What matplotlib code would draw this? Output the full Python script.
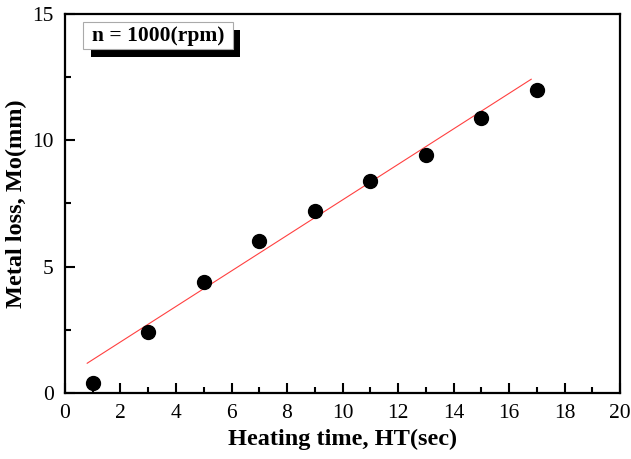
import numpy as np
import matplotlib.pyplot as plt
from matplotlib.patches import Rectangle
from matplotlib.ticker import MultipleLocator

# heating time (sec) vs metal loss (mm)
heating_time = [1, 3, 5, 7, 9, 11, 13, 15, 17]
metal_loss = [0.4, 2.4, 4.4, 6.0, 7.2, 8.4, 9.4, 10.9, 12.0]
fit_range = [0.8, 16.8]

plt.rcParams['font.family'] = ['Liberation Serif', 'DejaVu Serif']

fig = plt.figure(figsize=(6.31, 4.59), dpi=100)
ax = fig.add_axes([0.103, 0.1438, 0.8796, 0.8257])

slope, icpt = np.polyfit(heating_time, metal_loss, 1)
xf = np.array(fit_range)
ax.plot(xf, slope * xf + icpt + 0.15, color='#ff4040', lw=0.8)
ax.plot(heating_time, metal_loss, 'o', color='black', ms=10)

ax.set_xlim(0, 20)
ax.set_ylim(0, 15)
ax.xaxis.set_major_locator(MultipleLocator(2))
ax.xaxis.set_minor_locator(MultipleLocator(1))
ax.yaxis.set_major_locator(MultipleLocator(5))
ax.yaxis.set_minor_locator(MultipleLocator(2.5))
ax.tick_params(which='both', direction='in', width=1.5, labelsize=15.5, pad=8)
ax.tick_params(which='major', length=7)
ax.tick_params(which='minor', length=4)
for s in ax.spines.values():
    s.set_linewidth(1.6)

ax.set_xlabel('Heating time, HT(sec)', fontsize=17.5, fontweight='bold')
ax.set_ylabel('Metal loss, Mo(mm)', fontsize=17.5, fontweight='bold')

# label box with drop shadow
ax.add_patch(Rectangle((0.047, 0.887), 0.268, 0.072, transform=ax.transAxes,
                       facecolor='black', edgecolor='none', zorder=3))
ax.add_patch(Rectangle((0.033, 0.907), 0.269, 0.072, transform=ax.transAxes,
                       facecolor='white', edgecolor='#aaaaaa', lw=0.8, zorder=4))
ax.text(0.1675, 0.943, 'n = 1000(rpm)', transform=ax.transAxes, ha='center',
        va='center', fontsize=15.5, fontweight='bold', zorder=5)

fig.savefig('out.png', dpi=100)
